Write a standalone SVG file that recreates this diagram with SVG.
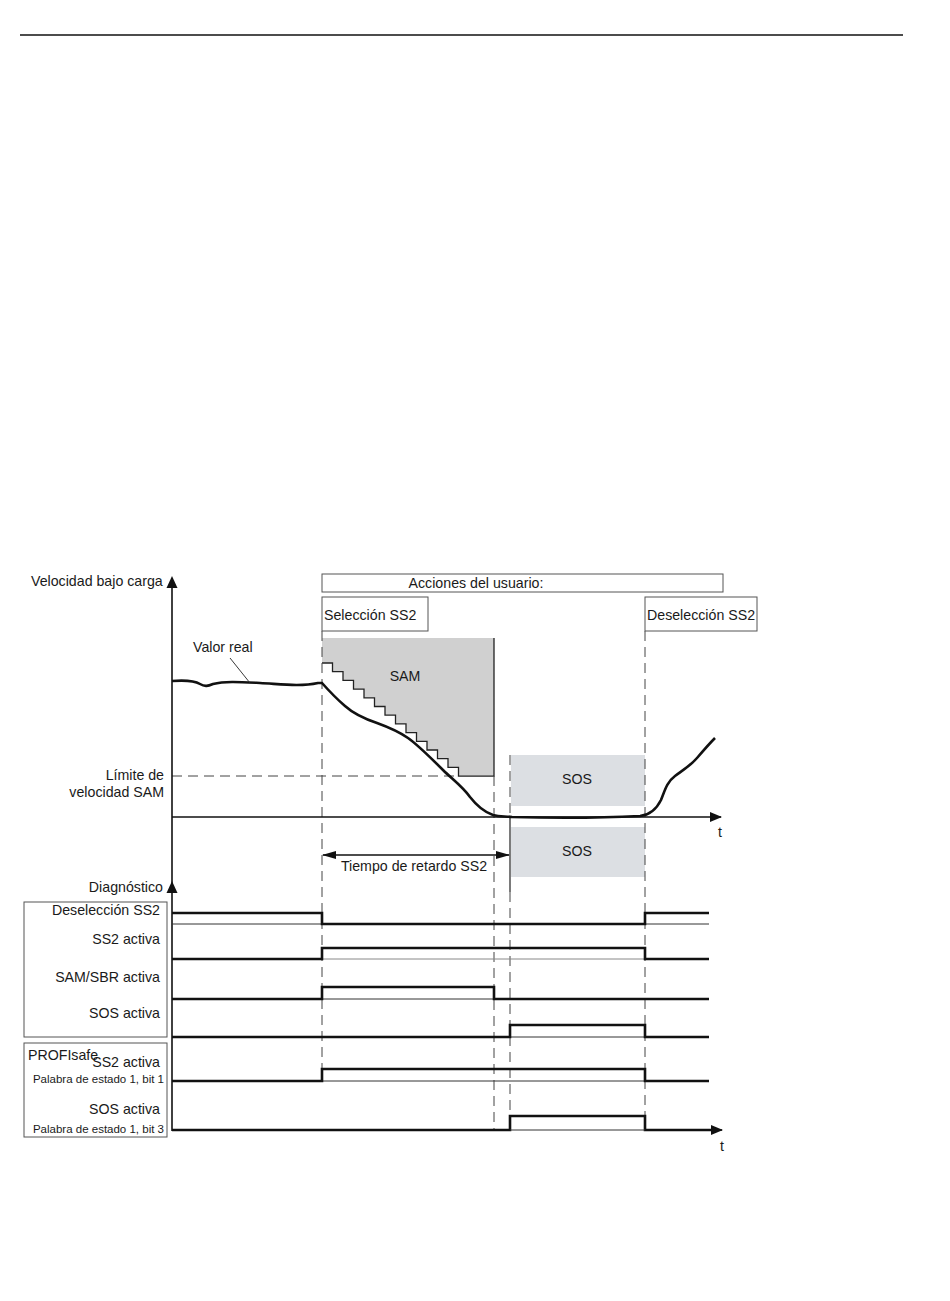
<svg xmlns="http://www.w3.org/2000/svg" width="950" height="1301" viewBox="0 0 950 1301">
<style>
text{font-family:"Liberation Sans",Arial,sans-serif;font-size:14.2px;fill:#1a1a1a}
.sm{font-size:11.5px}
.r{text-anchor:end}
.c{text-anchor:middle}
.box{fill:#fff;stroke:#555;stroke-width:1}
.sig{fill:none;stroke:#111;stroke-width:2.6;stroke-linejoin:miter}
.base{fill:none;stroke:#333;stroke-width:1}
.dash{fill:none;stroke:#444;stroke-width:1;stroke-dasharray:10,6}
.ax{fill:none;stroke:#111;stroke-width:1.6}
.thin{fill:none;stroke:#222;stroke-width:1.3}
</style>
<defs>
<marker id="ah" markerWidth="12" markerHeight="10" refX="11" refY="5" orient="auto" markerUnits="userSpaceOnUse"><path d="M0,0 L12,5 L0,10 Z" fill="#111"/></marker>
<marker id="ahs" markerWidth="14" markerHeight="8" refX="13" refY="4" orient="auto-start-reverse" markerUnits="userSpaceOnUse"><path d="M0,0 L14,4 L0,8 Z" fill="#111"/></marker>
</defs>
<rect width="950" height="1301" fill="#fff"/>
<line x1="20" y1="35" x2="903" y2="35" stroke="#111" stroke-width="1.3"/>

<g id="sam-region">
<path d="M322,638 H494 V776 H458.5 v-8.7 h-10.5 v-8.7 h-10.5 v-8.7 h-10.5 v-8.7 h-10.5 v-8.7 h-10.5 v-8.7 h-10.5 v-8.7 h-10.5 v-8.7 h-10.5 v-8.7 h-10.5 v-8.7 h-10.5 v-8.7 h-10.5 v-8.7 h-10.5 v-8.7 h-10.5 Z" fill="#d0d0d0"/>
<path d="M322,663 h10.5 v8.7 h10.5 v8.7 h10.5 v8.7 h10.5 v8.7 h10.5 v8.7 h10.5 v8.7 h10.5 v8.7 h10.5 v8.7 h10.5 v8.7 h10.5 v8.7 h10.5 v8.7 h10.5 v8.7 h10.5 v8.7 H494 V638" class="thin"/>
<text x="405" y="681" class="c">SAM</text>
</g>
<g id="sos-upper">
<rect x="511" y="755" width="134" height="51" fill="#dcdfe3"/>
<text x="577" y="784" class="c">SOS</text>
</g>
<g id="sos-lower">
<rect x="511" y="827" width="134" height="50" fill="#dcdfe3"/>
<text x="577" y="856" class="c">SOS</text>
</g>

<g id="connectors">
<line x1="322" y1="631" x2="322" y2="1080" class="dash"/>
<line x1="494" y1="776" x2="494" y2="1131" class="dash"/>
<line x1="510" y1="755" x2="510" y2="817" class="dash"/>
<line x1="510" y1="817" x2="510" y2="892" stroke="#222" stroke-width="1.2"/>
<line x1="510" y1="892" x2="510" y2="1131" class="dash"/>
<line x1="645" y1="631" x2="645" y2="1131" class="dash"/>
<line x1="172" y1="776" x2="459" y2="776" class="dash"/>
<line x1="172" y1="586" x2="172" y2="1131" class="ax"/>
<path d="M172,576 L166.5,588 L177.5,588 Z" fill="#111"/>
<path d="M172,881 L166.5,893 L177.5,893 Z" fill="#111"/>
<line x1="172" y1="817" x2="721" y2="817" class="ax" marker-end="url(#ah)"/>
<line x1="323" y1="855" x2="509" y2="855" stroke="#111" stroke-width="1.3" marker-start="url(#ahs)" marker-end="url(#ahs)"/>
<path d="M172,681 C185,680 195,681 200,684 C205,687 208,686 213,684 C225,681 240,682 260,683 C280,684 300,687 318,683 L322,683 C330,692 338,700 345,706 C355,715 365,719 377,723 C388,727 398,731 408,738 C418,745 430,757 443,770 C452,779 462,786 470,797 C477,806 484,812 493,815 C500,817 505,816 512,817 C550,818 600,818 640,816 C650,815 656,810 661,800 C665,790 667,782 675,776 C683,770 690,766 697,758 C703,751 709,744 715,738" fill="none" stroke="#111" stroke-width="2.6"/>
<line x1="230" y1="658" x2="250" y2="683" stroke="#222" stroke-width="0.9"/>
<line x1="172" y1="924" x2="709" y2="924" class="base"/>
<path d="M172,913 H322 V924 H645 V913 H709" class="sig"/>
<line x1="172" y1="959" x2="709" y2="959" stroke="#888" stroke-width="1"/>
<path d="M172,959 H322 V948 H645 V959 H709" class="sig"/>
<line x1="172" y1="999" x2="709" y2="999" class="base"/>
<path d="M172,999 H322 V987 H494 V999 H709" class="sig"/>
<line x1="172" y1="1037" x2="709" y2="1037" class="base"/>
<path d="M172,1037 H510 V1025 H645 V1037 H709" class="sig"/>
<line x1="172" y1="1081" x2="709" y2="1081" class="base"/>
<path d="M172,1081 H322 V1069 H645 V1081 H709" class="sig"/>
<path d="M172,1130 H510 V1116 H645 V1130 H712" class="sig"/>
<line x1="510" y1="1130" x2="645" y2="1130" class="base"/>
<line x1="700" y1="1130" x2="722" y2="1130" class="ax" marker-end="url(#ah)"/>
</g>

<g id="axis-labels">
<text x="31" y="586">Velocidad bajo carga</text>
<text x="193" y="652">Valor real</text>
<text x="164" y="780" class="r">Límite de</text>
<text x="164" y="797" class="r">velocidad SAM</text>
<text x="718" y="837">t</text>
<text x="720" y="1151">t</text>
<text x="414" y="871" class="c">Tiempo de retardo SS2</text>
<text x="163" y="892" class="r">Diagnóstico</text>
</g>

<g id="acciones">
<rect x="322" y="574" width="401" height="18" class="box"/>
<text x="476" y="588" class="c">Acciones del usuario:</text>
</g>
<g id="seleccion">
<rect x="322" y="597" width="106" height="34" class="box"/>
<text x="324" y="620">Selección SS2</text>
</g>
<g id="deseleccion">
<rect x="645" y="597" width="112" height="34" class="box"/>
<text x="647" y="620">Deselección SS2</text>
</g>

<g id="diag-box">
<rect x="24" y="902" width="143" height="135" class="box"/>
<text x="160" y="915" class="r">Deselección SS2</text>
<text x="160" y="944" class="r">SS2 activa</text>
<text x="160" y="982" class="r">SAM/SBR activa</text>
<text x="160" y="1018" class="r">SOS activa</text>
</g>
<g id="profisafe-box">
<rect x="24" y="1043" width="143" height="94" class="box"/>
<text x="28" y="1060">PROFIsafe</text>
<text x="160" y="1067" class="r">SS2 activa</text>
<text x="164" y="1083" class="r sm">Palabra de estado 1, bit 1</text>
<text x="160" y="1114" class="r">SOS activa</text>
<text x="164" y="1133" class="r sm">Palabra de estado 1, bit 3</text>
</g>
</svg>
